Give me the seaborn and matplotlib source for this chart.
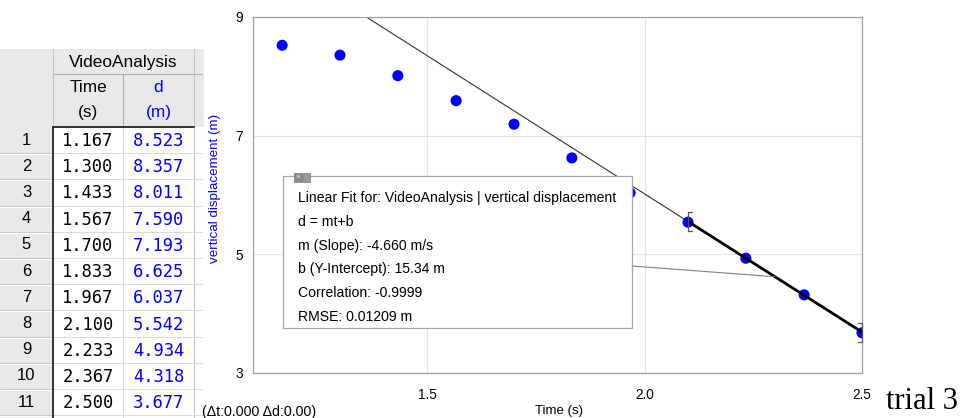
import numpy as np
import pandas as pd
import matplotlib
matplotlib.use("Agg")
import matplotlib.pyplot as plt
import seaborn as sns
from matplotlib.patches import Rectangle, ConnectionPatch
from matplotlib.ticker import MultipleLocator, FormatStrFormatter

# Video analysis samples
time_s = [1.167, 1.300, 1.433, 1.567, 1.700, 1.833, 1.967, 2.100, 2.233, 2.367, 2.500]
disp_m = [8.523, 8.357, 8.011, 7.590, 7.193, 6.625, 6.037, 5.542, 4.934, 4.318, 3.677]
row_numbers = list(range(1, 12))

# Linear fit results
fit_slope = -4.660
fit_intercept = 15.34
fit_range = [2.100, 2.500]
fit_text = [
    "Linear Fit for: VideoAnalysis | vertical displacement",
    "d = mt+b",
    "m (Slope): -4.660 m/s",
    "b (Y-Intercept): 15.34 m",
    "Correlation: -0.9999",
    "RMSE: 0.01209 m",
]

x_limits = [1.1, 2.5]
y_limits = [3, 9]
x_ticks = [1.5, 2.0, 2.5]
y_ticks = [3, 5, 7, 9]

sns.set_theme(style="white")
plt.rcParams["font.family"] = ["Liberation Sans", "DejaVu Sans"]

BLUE = "#0000ff"
W, H = 960, 418
fig = plt.figure(figsize=(W / 100, H / 100), dpi=100)

# ---------------- graph ----------------
ax = fig.add_axes([253 / W, 45 / H, 609 / W, 356 / H])
df = pd.DataFrame({"t": time_s, "d": disp_m})

ax.set_xlim(*x_limits)
ax.set_ylim(*y_limits)
ax.set_xticks(x_ticks)
ax.set_yticks(y_ticks)
ax.xaxis.set_minor_locator(MultipleLocator(0.1))
ax.yaxis.set_minor_locator(MultipleLocator(1))
ax.grid(which="major", color="#e4e4e4", lw=0.8)
ax.set_axisbelow(True)
for sp in ax.spines.values():
    sp.set_color("#a0a0a0")
    sp.set_linewidth(0.9)
ax.tick_params(which="major", direction="out", length=5, width=0.8,
               color="#909090", labelsize=9.8, labelcolor="black")
ax.tick_params(axis="x", which="major", pad=5.5)
ax.tick_params(axis="y", which="major", pad=2)
ax.tick_params(which="minor", direction="out", length=4, width=0.8, color="#909090")
ax.xaxis.set_major_formatter(FormatStrFormatter("%.1f"))
ax.yaxis.set_major_formatter(FormatStrFormatter("%d"))

# full-width fit line
full_t = np.array(x_limits)
fit_full = pd.DataFrame({"t": full_t, "d": fit_slope * full_t + fit_intercept})
sns.lineplot(data=fit_full, x="t", y="d", color="#333333", lw=0.8, ax=ax, zorder=2)

# thick fit over the fitted range
rng_t = np.array(fit_range)
fit_rng = pd.DataFrame({"t": rng_t, "d": fit_slope * rng_t + fit_intercept})
sns.lineplot(data=fit_rng, x="t", y="d", color="black", lw=2.0, ax=ax, zorder=4)

sns.scatterplot(data=df, x="t", y="d", color=BLUE, s=64, edgecolor="none",
                ax=ax, zorder=3, legend=False)

# range brackets
bh, bw = 0.16, 0.009
for t0, sgn in zip(fit_range, [1, -1]):
    d0 = fit_slope * t0 + fit_intercept
    ax.plot([t0 + sgn * bw, t0, t0, t0 + sgn * bw],
            [d0 + bh, d0 + bh, d0 - bh, d0 - bh],
            color="#555555", lw=0.9, zorder=5, clip_on=False)

ax.set_xlabel("")
ax.set_ylabel("")

# ---------------- overlay (pixel coordinates) ----------------
ov = fig.add_axes([0, 0, 1, 1])
ov.set_xlim(0, W)
ov.set_ylim(H, 0)
ov.axis("off")
ov.patch.set_visible(False)

ov.text(559, 411, "Time (s)", ha="center", va="center", fontsize=9.5, color="black")
ov.text(215, 188, "vertical displacement (m)", ha="center", va="center",
        rotation=90, fontsize=9.6, color=BLUE)

# data table
col_x = [0, 53, 123, 194, 205]
head_top, head_mid, head_bot = 49, 74, 127
row_h = 26.2
n_rows = len(time_s)
grid_c = "#dcdcdc"
gray_bg = "#e9e9e9"

ov.add_patch(Rectangle((0, head_top), col_x[3], head_bot - head_top,
                       facecolor=gray_bg, edgecolor="none"))
ov.add_patch(Rectangle((col_x[3], head_top), 10, head_bot - head_top,
                       facecolor=gray_bg, edgecolor="none"))
ov.add_patch(Rectangle((0, head_bot), col_x[1], H - head_bot,
                       facecolor=gray_bg, edgecolor="none"))
# header lines
ov.plot([col_x[1], col_x[1]], [head_top, head_bot], color="#c4c4c4", lw=0.8)
ov.plot([col_x[1], W * 0.21], [head_mid, head_mid], color="#b0b0b0", lw=0.8)
ov.plot([col_x[2], col_x[2]], [head_mid, head_bot], color="#b0b0b0", lw=0.8)
ov.plot([col_x[3], col_x[3]], [head_top, H], color="#c4c4c4", lw=0.8)
ov.text((col_x[1] + col_x[3]) / 2, (head_top + head_mid) / 2 + 1, "VideoAnalysis",
        ha="center", va="center", fontsize=12.4, color="black")
ov.text((col_x[1] + col_x[2]) / 2, head_mid + 13, "Time", ha="center", va="center",
        fontsize=12.4, color="black")
ov.text((col_x[1] + col_x[2]) / 2, head_mid + 39, "(s)", ha="center", va="center",
        fontsize=12.4, color="black")
ov.text((col_x[2] + col_x[3]) / 2, head_mid + 13, "d", ha="center", va="center",
        fontsize=12.4, color=BLUE)
ov.text((col_x[2] + col_x[3]) / 2, head_mid + 39, "(m)", ha="center", va="center",
        fontsize=12.4, color=BLUE)

# body rows
for i in range(n_rows + 1):
    y0 = head_bot + i * row_h
    ov.plot([0, col_x[1]], [y0 + row_h, y0 + row_h], color="#c8c8c8", lw=0.9)
    ov.plot([0, col_x[1]], [y0 + row_h + 1, y0 + row_h + 1], color="white", lw=0.8)
    ov.plot([col_x[1], W * 0.21], [y0 + row_h, y0 + row_h], color=grid_c, lw=0.8)
ov.plot([col_x[2], col_x[2]], [head_bot, H], color=grid_c, lw=0.8)

for i, (n, t, d) in enumerate(zip(row_numbers, time_s, disp_m)):
    yc = head_bot + i * row_h + row_h / 2
    ov.text(col_x[1] / 2, yc, str(n), ha="center", va="center", fontsize=12,
            color="black")
    ov.text((col_x[1] + col_x[2]) / 2, yc + 1, f"{t:.3f}", ha="center", va="center",
            fontsize=12.3, family="DejaVu Sans Mono", color="black")
    ov.text((col_x[2] + col_x[3]) / 2, yc + 1, f"{d:.3f}", ha="center", va="center",
            fontsize=12.3, family="DejaVu Sans Mono", color=BLUE)

# selection outline
ov.plot([col_x[1], col_x[1]], [head_bot, H], color="#222222", lw=1.3)
ov.plot([col_x[1], col_x[3]], [head_bot, head_bot], color="#222222", lw=1.3)

# fit annotation box
bx0, by0, bx1, by1 = 283, 176, 632, 328
ov.add_patch(Rectangle((bx0, by0), bx1 - bx0, by1 - by0, facecolor="white",
                       edgecolor="#a8a8a8", lw=0.9, zorder=5))
for k, line in enumerate(fit_text):
    ov.text(bx0 + 15, by0 + 22 + k * 23.8, line, ha="left", va="center",
            fontsize=10.1, color="black", zorder=6)
# close / pin buttons
ov.add_patch(Rectangle((294, 173), 8, 9, facecolor="#8c8c8c", edgecolor="#777777",
                       lw=0.5, zorder=7))
ov.add_patch(Rectangle((303, 173), 7, 9, facecolor="#9a9a9a", edgecolor="#777777",
                       lw=0.5, zorder=7))
ov.text(298, 177.5, "×", ha="center", va="center", fontsize=6, color="#eeeeee",
        zorder=8)

# leader from box to middle of fitted range
t_mid = (fit_range[0] + fit_range[1]) / 2
con = ConnectionPatch(xyA=(bx1, 266), coordsA=ov.transData,
                      xyB=(t_mid, fit_slope * t_mid + fit_intercept), coordsB=ax.transData,
                      color="#808080", lw=0.8, zorder=4)
fig.add_artist(con)

ov.text(202, 412, "(Δt:0.000 Δd:0.00)", ha="left", va="center", fontsize=10.3,
        color="black")
ov.text(886, 416, "trial 3", ha="left", va="bottom", fontsize=22,
        family="Liberation Serif", color="black")

fig.savefig("out.png", dpi=100)
